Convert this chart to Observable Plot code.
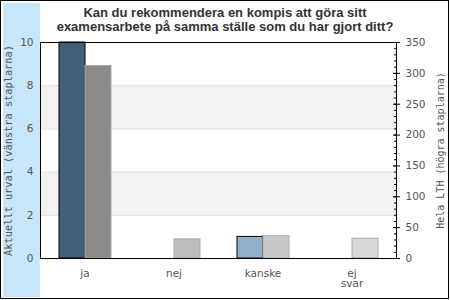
<!DOCTYPE html>
<html><head><meta charset="utf-8">
<script src="https://cdn.jsdelivr.net/npm/d3@7"></script>
<script src="https://cdn.jsdelivr.net/npm/@observablehq/plot@0.6"></script>
<style>
body{margin:0;background:#fff;}
#wrap{position:relative;width:450px;height:300px;overflow:hidden;}
#strip{position:absolute;left:3px;top:3px;width:37px;height:294px;background:#c8e6fa;}
#border{position:absolute;left:0;top:0;width:449px;height:299px;border:1px solid #000;box-sizing:border-box;pointer-events:none;}
#title{position:absolute;left:0;top:6px;width:450px;text-align:center;font:bold 13px "Liberation Sans",Arial,sans-serif;color:#333;line-height:14px;}
#chart svg{position:absolute;left:0;top:0;}
</style></head>
<body>
<div id="wrap"><div id="strip"></div><div id="chart"></div>
<div id="title">Kan du rekommendera en kompis att göra sitt<br>examensarbete på samma ställe som du har gjort ditt?</div>
<div id="border"></div></div>
<script>
const categories = ["ja", "nej", "kanske", "ej svar"];
const leftValues = [10, 0, 1, 0];          // Aktuellt urval (vänstra staplarna)
const rightValues = [312, 31, 36, 32];     // Hela LTH (högra staplarna)
const leftTicks = [0, 2, 4, 6, 8, 10];
const rightTicks = [0, 50, 100, 150, 200, 250, 300, 350];
const rightMinorTicks = [0,10,20,30,40,50,60,70,80,90,100,110,120,130,140,150,160,170,180,190,200,210,220,230,240,250,260,270,280,290,300,310,320,330,340,350];
const gridTicks = [2, 4, 6, 8];
const bandStarts = [2, 6];
const leftMax = 10, rightMax = 350;
const leftColors = ["#3f5f7b", "#3f5f7b", "#8fb1cc", "#8fb1cc"];
const rightColors = ["#8a8a8a", "#bdbdbd", "#c9c9c9", "#d8d8d8"];

const k = rightMax / leftMax;
const leftRows = categories.map((c, i) => ({cat: c, serie: "vänster", value: leftValues[i], key: "v" + i})).filter(d => d.value > 0);
const rightRows = categories.map((c, i) => ({cat: c, serie: "höger", value: rightValues[i] / k, key: "h" + i})).filter(d => d.value > 0);

const chart = Plot.plot({
  width: 450, height: 300,
  marginLeft: 40, marginRight: 54, marginTop: 42, marginBottom: 42,
  style: {background: "transparent", fontFamily: "DejaVu Sans", fontSize: "10.5px", color: "#555"},
  fx: {domain: categories, padding: 0, label: null},
  x: {domain: ["vänster", "höger"], paddingInner: 0, paddingOuter: 0.65, axis: null},
  y: {domain: [0, leftMax], label: null},
  color: {type: "ordinal", domain: categories.map((c, i) => "v" + i).concat(categories.map((c, i) => "h" + i)), range: leftColors.concat(rightColors)},
  marks: [
    Plot.rectY(bandStarts, {y1: d => d, y2: d => d + 2, fill: "#f2f2f2"}),
    Plot.gridY(gridTicks, {stroke: "#dcdcdc", strokeOpacity: 1}),
    Plot.barY(leftRows, {fx: "cat", x: "serie", y: "value", fill: "key", stroke: "black"}),
    Plot.barY(rightRows, {fx: "cat", x: "serie", y: "value", fill: "key", stroke: "#aaa"}),
    Plot.frame({stroke: "black", facet: "super"}),
    Plot.axisY({ticks: leftTicks, tickSize: 0, tickPadding: 7, label: null, fill: "#555"}),
    Plot.axisY({ticks: [], tickSize: 0, label: "Aktuellt urval (vänstra staplarna)", labelAnchor: "center", labelArrow: "none", labelOffset: 36, fontFamily: "DejaVu Sans Mono", fontSize: 10.3, fill: "#555"}),
    Plot.axisY(rightMinorTicks.map(v => v / k), {anchor: "right", tickSize: 3, insetRight: 3, fill: "none", stroke: "black"}),
    Plot.axisY(rightTicks.map(v => v / k), {anchor: "right", tickSize: 7, insetRight: 4, fill: "none", stroke: "black"}),
    Plot.axisY(rightTicks.map(v => v / k), {anchor: "right", tickSize: 0, tickPadding: 9, tickFormat: d => Math.round(d * k), label: null, fill: "#555"}),
    Plot.axisY({anchor: "right", ticks: [], tickSize: 0, label: "Hela LTH (högra staplarna)", labelAnchor: "center", labelArrow: "none", labelOffset: 47, fontFamily: "DejaVu Sans Mono", fontSize: 10, fill: "#555"}),
    Plot.axisFx({anchor: "bottom", tickSize: 0, tickPadding: 11, tickFormat: d => d.replace(" ", "\n"), label: null, fill: "#555"})
  ]
});
document.getElementById("chart").appendChild(chart);
</script>
</body></html>
